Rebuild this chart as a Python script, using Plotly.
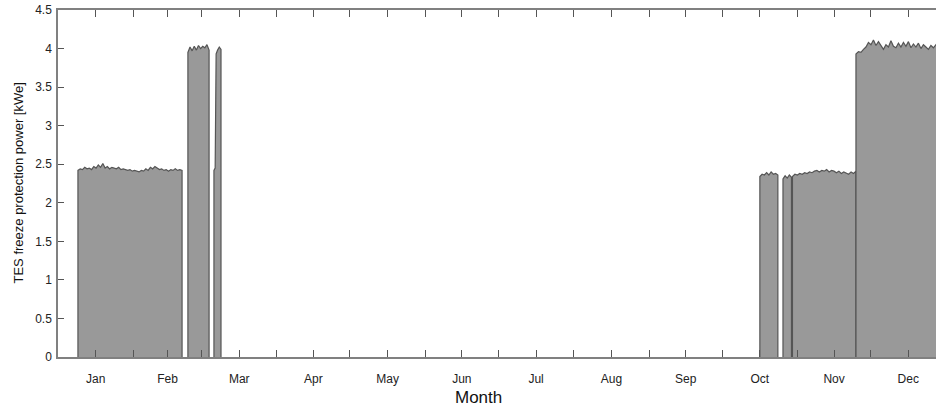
import numpy as np
import plotly.graph_objects as go

# ---- data (x in day-of-year, y in kWe) ----
month_names = ["Jan", "Feb", "Mar", "Apr", "May", "Jun", "Jul", "Aug", "Sep", "Oct", "Nov", "Dec"]
month_starts = [0, 31, 59, 90, 120, 151, 181, 212, 243, 273, 304, 334, 365]

seg_a_span = (8.2, 51.0)
seg_a_vals = [2.42, 2.44, 2.43, 2.46, 2.44, 2.45, 2.43, 2.47, 2.45, 2.49, 2.46, 2.51, 2.45, 2.47,
              2.44, 2.46, 2.45, 2.44, 2.46, 2.43, 2.44, 2.43, 2.42, 2.43, 2.41, 2.42, 2.41, 2.40,
              2.42, 2.41, 2.44, 2.42, 2.46, 2.44, 2.47, 2.45, 2.43, 2.44, 2.42, 2.43, 2.41, 2.43,
              2.42, 2.44, 2.42, 2.43, 2.42]

seg_b_span = (53.4, 62.1)
seg_b_vals = [3.95, 4.02, 3.97, 4.03, 3.98, 4.04, 4.00, 4.03, 4.01, 4.05, 3.98]

seg_c_x = [64.1, 64.6, 65.0, 65.6, 66.3, 67.0]
seg_c_vals = [2.42, 2.45, 3.93, 3.98, 4.02, 3.99]

seg_d_span = (288.5, 295.9)
seg_d_vals = [2.34, 2.37, 2.36, 2.39, 2.36, 2.40, 2.37, 2.38, 2.36]

seg_e1_span = (298.0, 301.5)
seg_e1_vals = [2.31, 2.35, 2.32, 2.36, 2.33]

seg_e2_span = (301.9, 328.0)
seg_e2_vals = [2.34, 2.37, 2.36, 2.38, 2.37, 2.39, 2.38, 2.40, 2.39, 2.41, 2.42, 2.40, 2.42,
               2.41, 2.43, 2.40, 2.42, 2.41, 2.39, 2.41, 2.38, 2.40, 2.39, 2.37, 2.40, 2.38, 2.41]

seg_f_span = (328.0, 366.0)
seg_f_vals = [3.93, 3.96, 3.95, 3.99, 4.02, 4.08, 4.05, 4.11, 4.04, 4.09, 4.03, 3.99, 4.05, 4.02,
              4.10, 4.03, 4.01, 4.07, 4.02, 4.08, 4.03, 4.09, 4.01, 4.06, 4.02, 4.07, 4.00, 4.05,
              4.02, 3.99, 4.04, 4.01, 4.05, 4.00, 4.03, 3.99, 4.02, 4.00]

y_tick_vals = [0, 0.5, 1, 1.5, 2, 2.5, 3, 3.5, 4, 4.5]
y_tick_text = ["0", "0.5", "1", "1.5", "2", "2.5", "3", "3.5", "4", "4.5"]

# ---- build segments ----
segments = []
for span, vals in [(seg_a_span, seg_a_vals), (seg_b_span, seg_b_vals), (None, seg_c_vals),
                   (seg_d_span, seg_d_vals), (seg_e1_span, seg_e1_vals),
                   (seg_e2_span, seg_e2_vals), (seg_f_span, seg_f_vals)]:
    if span is None:
        xs = list(seg_c_x)
    else:
        xs = list(np.linspace(span[0], span[1], len(vals)))
    segments.append((xs, list(vals)))

fig = go.Figure()
for xs, ys in segments:
    fig.add_trace(go.Scatter(
        x=[xs[0]] + xs + [xs[-1]],
        y=[0] + ys + [0],
        mode="lines",
        fill="toself",
        fillcolor="#999999",
        line=dict(color="#555555", width=1.2),
        hoverinfo="skip",
        showlegend=False,
    ))

# ticks at month starts and mid-months; labels at mid-months
tickvals, ticktext = [], []
for i in range(12):
    tickvals.append(month_starts[i])
    ticktext.append("")
    tickvals.append((month_starts[i] + month_starts[i + 1]) / 2)
    ticktext.append(month_names[i])

axis_col = "#808080"
fig.update_xaxes(
    range=[0, 360.9], tickmode="array", tickvals=tickvals, ticktext=ticktext,
    ticks="inside", ticklen=7, tickcolor="#555555", tickwidth=1,
    showline=True, linecolor=axis_col, linewidth=1.5, mirror="ticks",
    showgrid=False, zeroline=False, automargin=False, ticklabeloverflow="allow",
    tickfont=dict(family="Liberation Sans, Arial", size=12, color="#222222"),
    ticklabelstandoff=10,
)
fig.update_yaxes(
    range=[0, 4.5], tickmode="array", tickvals=y_tick_vals, ticktext=y_tick_text,
    ticks="inside", ticklen=6, tickcolor="#555555", tickwidth=1,
    showline=True, linecolor=axis_col, linewidth=1.5, mirror=False,
    showgrid=False, zeroline=False, automargin=False, ticklabeloverflow="allow",
    tickfont=dict(family="Liberation Sans, Arial", size=12, color="#222222"),
    ticklabelstandoff=2,
)

fig_w, fig_h = 936, 414
m_l, m_t, m_r, m_b = 58, 10, 0, 57
plot_h = fig_h - m_t - m_b
plot_w = fig_w - m_l - m_r
fig.update_layout(
    width=fig_w, height=fig_h,
    margin=dict(l=m_l, r=m_r, t=m_t, b=m_b),
    plot_bgcolor="white", paper_bgcolor="white",
    annotations=[
        dict(text="Month", x=(478 - 58) / plot_w, y=-(397 - 357) / plot_h,
             xref="paper", yref="paper",
             xanchor="center", yanchor="middle", showarrow=False,
             font=dict(family="Liberation Sans, Arial", size=17, color="#111111")),
        dict(text="TES freeze protection power [kWe]", x=(18 - 58) / plot_w, y=0.5,
             xref="paper", yref="paper", showarrow=False, textangle=-90,
             xanchor="center", yanchor="middle",
             font=dict(family="Liberation Sans, Arial", size=13, color="#111111")),
    ],
)

fig.write_html("out.html",
               config={"displayModeBar": False},
               post_script="document.body.style.margin='0';document.body.style.overflow='hidden';")
